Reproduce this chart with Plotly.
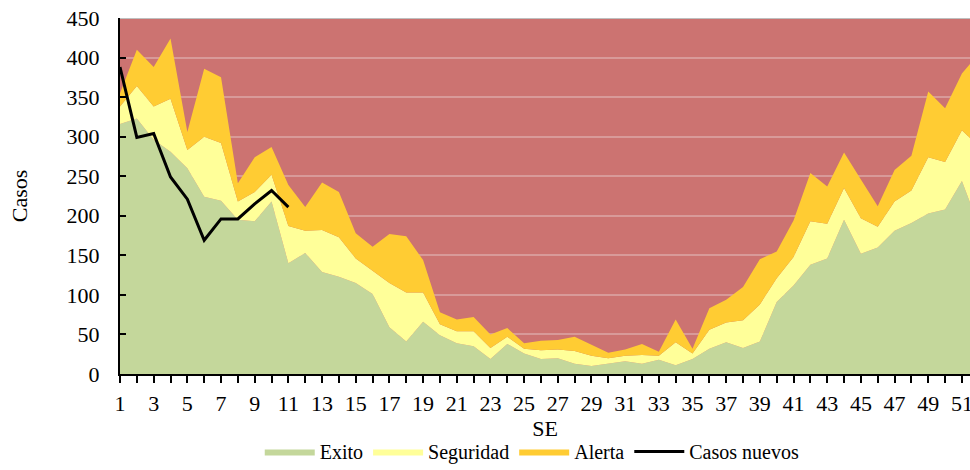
import plotly.graph_objects as go

# Semana epidemiológica
semanas = list(range(1, 53))

# Canal endémico: zonas apiladas (incrementos sobre la zona anterior)
exito = [316, 323, 296, 281, 260, 224, 219, 195, 193, 218, 140, 153, 129, 123, 115, 101,
         59, 41, 66, 49, 39, 35, 19, 38, 26, 19, 20, 13, 10, 13, 16, 13, 18, 11, 19, 32,
         40, 33, 41, 91, 112, 138, 146, 195, 152, 160, 181, 191, 203, 208, 244, 187]
seguridad = [22, 41, 42, 67, 23, 76, 73, 23, 37, 34, 47, 28, 53, 50, 31, 30, 56, 62, 37,
             14, 15, 19, 14, 9, 6, 11, 11, 16, 13, 7, 7, 11, 5, 29, 7, 24, 25, 35, 47, 30,
             36, 55, 44, 40, 45, 26, 37, 41, 71, 60, 64, 101]
alerta = [17, 46, 50, 76, 23, 86, 83, 23, 44, 35, 52, 30, 60, 57, 32, 30, 62, 71, 41, 15,
          15, 18, 17, 11, 7, 12, 12, 18, 14, 7, 8, 14, 5, 29, 6, 27, 29, 42, 57, 34, 46,
          61, 47, 45, 49, 26, 40, 44, 83, 68, 72, 117]

# Casos nuevos del año en curso
semanas_casos = list(range(1, 12))
casos_nuevos = [388, 299, 304, 249, 221, 169, 196, 196, 215, 232, 211]

y_ticks = list(range(0, 451, 50))
x_labels = [str(s) if s % 2 == 1 else "" for s in semanas]

FONT = "Liberation Serif"

fig = go.Figure()
for nombre, valores, color in [("Exito", exito, "#C4D79B"),
                               ("Seguridad", seguridad, "#FFFF99"),
                               ("Alerta", alerta, "#FFCC33")]:
    fig.add_trace(go.Scatter(
        x=semanas, y=valores, name=nombre, mode="lines",
        stackgroup="canal", line=dict(width=0, color=color),
        fillcolor=color, hoverinfo="x+y+name"))

fig.add_trace(go.Scatter(
    x=semanas_casos, y=casos_nuevos, name="Casos nuevos", mode="lines",
    line=dict(color="black", width=3)))

fig.update_layout(
    width=970, height=470,
    margin=dict(l=120, r=0, t=18, b=96, autoexpand=False),
    paper_bgcolor="white",
    plot_bgcolor="#CC7371",
    font=dict(family=FONT, size=22, color="black"),
    showlegend=True,
    legend=dict(orientation="h", x=0.485, xanchor="center", y=-0.2725, yanchor="bottom",
                font=dict(family=FONT, size=20), traceorder="normal",
                itemwidth=50, bgcolor="rgba(0,0,0,0)", borderwidth=0),
    xaxis=dict(
        range=[1, 51.48], tickmode="array", tickvals=semanas, ticktext=x_labels,
        showgrid=False, zeroline=False, showline=True, linecolor="black", linewidth=2,
        ticks="outside", ticklen=7, tickwidth=2, tickcolor="black",
        tickfont=dict(family=FONT, size=22), ticklabelstandoff=2,
        ticklabeloverflow="allow", automargin=False,
        title=dict(text="SE", font=dict(family=FONT, size=22), standoff=4)),
    yaxis=dict(
        range=[0, 450], tickmode="array", tickvals=y_ticks,
        showgrid=True, gridcolor="#D89A99", gridwidth=1.5,
        zeroline=False, showline=True, linecolor="black", linewidth=2,
        ticks="inside", ticklen=6, tickwidth=2, tickcolor="black",
        tickfont=dict(family=FONT, size=22), ticklabelstandoff=14,
        automargin=False,
        title=dict(text="Casos", font=dict(family=FONT, size=22), standoff=33)),
)

# Borde superior del área de trazado
fig.add_shape(type="line", xref="paper", yref="y", x0=0, x1=1, y0=450, y1=450,
              line=dict(color="#BFBFBF", width=2), layer="above")

fig.write_html("out.html")
